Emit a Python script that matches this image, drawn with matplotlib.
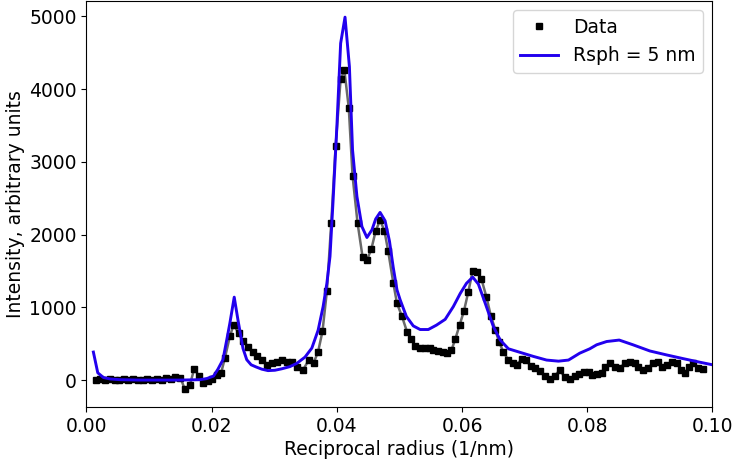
import numpy as np
import matplotlib
matplotlib.use('Agg')
import matplotlib.pyplot as plt

# measured data (reciprocal radius, intensity)
data_x = [0.0015, 0.0022, 0.0030, 0.0037, 0.0045, 0.0052, 0.0060, 0.0067, 0.0075, 0.0082,
          0.0090, 0.0097, 0.0105, 0.0112, 0.0120, 0.0127, 0.0135, 0.0142, 0.0150,
          0.0157, 0.0165, 0.0172, 0.0180, 0.0186, 0.0194, 0.0201, 0.0208, 0.0215, 0.0221,
          0.0229, 0.0235, 0.0243, 0.0250, 0.0258, 0.0266, 0.0273, 0.0281, 0.0289, 0.0296,
          0.0304, 0.0313, 0.0320, 0.0329, 0.0337, 0.0346, 0.0355, 0.0363, 0.0370, 0.0377,
          0.0384, 0.0391, 0.0398, 0.0406, 0.0412, 0.0419, 0.0425, 0.0433, 0.0441, 0.0448,
          0.0455, 0.0462, 0.0469, 0.0476, 0.0482, 0.0490, 0.0496, 0.0504, 0.0512, 0.0518,
          0.0525, 0.0532, 0.0540, 0.0548, 0.0554, 0.0562, 0.0569, 0.0576, 0.0583, 0.0589,
          0.0596, 0.0603, 0.0610, 0.0617, 0.0624, 0.0631, 0.0639, 0.0646, 0.0653, 0.0659,
          0.0666, 0.0674, 0.0681, 0.0687, 0.0695, 0.0702, 0.0710, 0.0716, 0.0724, 0.0732,
          0.0740, 0.0748, 0.0756, 0.0764, 0.0772, 0.0780, 0.0787, 0.0795, 0.0802, 0.0808,
          0.0815, 0.0823, 0.0828, 0.0836, 0.0844, 0.0852, 0.0860, 0.0868, 0.0876, 0.0881,
          0.0889, 0.0897, 0.0905, 0.0913, 0.0920, 0.0927, 0.0935, 0.0943, 0.0949, 0.0956,
          0.0963, 0.0969, 0.0977, 0.0985]
data_y = [0, 10, -5, 15, 5, 0, 15, 0, 10, 5,
          0, 20, 0, 10, 5, 30, 20, 40, 35,
          -125, -70, 150, 55, -40, -15, 10, 70, 95, 300,
          600, 760, 645, 540, 460, 380, 330, 275, 210, 240,
          255, 275, 255, 255, 175, 140, 275, 240, 390, 670,
          1220, 2160, 3220, 4140, 4260, 3740, 2810, 2160, 1695, 1650,
          1800, 2050, 2200, 2050, 1770, 1340, 1055, 875, 665, 570,
          465, 445, 435, 435, 410, 400, 385, 375, 410, 560,
          755, 950, 1215, 1505, 1490, 1385, 1140, 880, 695, 525,
          385, 275, 240, 210, 285, 270, 195, 160, 130, 55,
          10, 55, 140, 37, 10, 55, 85, 115, 115, 75,
          85, 100, 185, 230, 185, 160, 240, 255, 240, 185,
          140, 160, 240, 255, 185, 210, 255, 240, 140, 100,
          185, 240, 160, 150]

# model curve, Rsph = 5 nm
model_x = [0.0011, 0.0018, 0.0027, 0.0038, 0.0054, 0.0085, 0.0117, 0.0149, 0.0181, 0.0192,
           0.0203, 0.0210, 0.0218, 0.0224, 0.0229, 0.0236, 0.0242, 0.0250, 0.0256, 0.0263,
           0.0271, 0.0280, 0.0290, 0.0301, 0.0312, 0.0325, 0.0336, 0.0349, 0.0360, 0.0370,
           0.0378, 0.0384, 0.0389, 0.0394, 0.0400, 0.0406, 0.0413, 0.0420, 0.0425, 0.0432,
           0.0440, 0.0448, 0.0456, 0.0462, 0.0469, 0.0477, 0.0484, 0.0490, 0.0496, 0.0501,
           0.0511, 0.0522, 0.0533, 0.0546, 0.0559, 0.0573, 0.0586, 0.0597, 0.0607, 0.0617,
           0.0626, 0.0637, 0.0650, 0.0661, 0.0674, 0.0693, 0.0714, 0.0735, 0.0754, 0.0770,
           0.0788, 0.0804, 0.0815, 0.0831, 0.0851, 0.0873, 0.0900, 0.0927, 0.0953, 0.0980,
           0.1000]
model_y = [385, 100, 35, 15, 5, 0, 0, 0, 5, 20,
           55, 150, 280, 550, 780, 1140, 825, 435, 280, 210,
           180, 150, 130, 135, 155, 185, 230, 315, 440, 685,
           1010, 1330, 1700, 2480, 3490, 4630, 4990, 4310, 3165, 2525,
           2110, 1960, 2065, 2215, 2305, 2190, 1910, 1550, 1240, 1105,
           875, 745, 695, 695, 755, 835, 1010, 1190, 1330, 1415,
           1320, 1055, 735, 550, 430, 380, 325, 275, 260, 275,
           370, 430, 485, 530, 550, 485, 400, 345, 295, 245,
           210]

fs = 13.5

fig = plt.figure(figsize=(7.33, 4.65), dpi=100)
ax = fig.add_axes([0.118, 0.124, 0.854, 0.874])

ax.plot(data_x, data_y, '-', color='dimgray', lw=1.8, zorder=1)
ax.plot(data_x, data_y, 's', color='black', markersize=4.5, label='Data', zorder=2)
ax.plot(model_x, model_y, '-', color='#2200ee', lw=2.1, label='Rsph = 5 nm', zorder=3)

ax.set_xlim(0, 0.1)
ax.set_ylim(-375, 5213)
ax.set_xticks([0.0, 0.02, 0.04, 0.06, 0.08, 0.1])
ax.set_xticklabels(['0.00', '0.02', '0.04', '0.06', '0.08', '0.10'])
ax.set_yticks([0, 1000, 2000, 3000, 4000, 5000])
ax.tick_params(labelsize=fs)
ax.set_xlabel('Reciprocal radius (1/nm)', fontsize=fs, labelpad=3)
ax.set_ylabel('Intensity, arbitrary units', fontsize=fs, labelpad=3)
ax.legend(loc='upper right', fontsize=fs)

fig.savefig('out.png', dpi=100)
